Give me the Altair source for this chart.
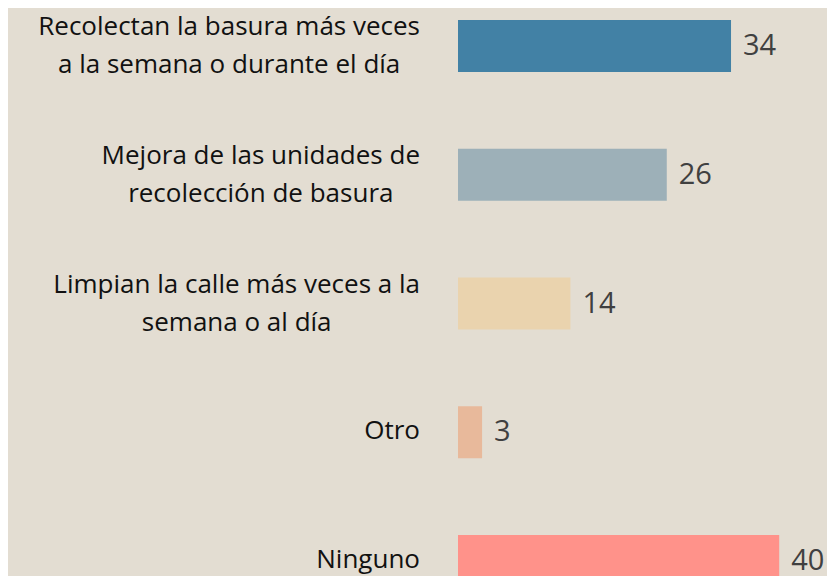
import subprocess
import altair as alt
import pandas as pd

# ---- data ----
labels = [
    "Recolectan la basura más veces|a la semana o durante el día",
    "Mejora de las unidades de|recolección de basura",
    "Limpian la calle más veces a la|semana o al día",
    "Otro",
    "Ninguno",
]
values = [34, 26, 14, 3, 40]
colors = ["#4281A5", "#9DB0B8", "#EAD3AE", "#E8B99B", "#FF928A"]

# ---- style ----
LABEL_FONT = "Open Sans"
LABEL_SIZE = 26
NUM_FONT = "Open Sans"
NUM_SIZE = 29
BG = "#E3DDD2"
W, H = 819, 568
LABEL_RIGHT = 412


def _measure(s, family, size):
    try:
        from PIL import ImageFont
        path = subprocess.run(["fc-match", "-f", "%{file}", family],
                              capture_output=True, text=True).stdout.strip()
        f = ImageFont.truetype(path, size)
        return f.getlength(s)
    except Exception:
        w = 0.0
        for ch in s:
            if ch in "iljíI.,|'":
                w += 0.25
            elif ch in "frt":
                w += 0.36
            elif ch == " ":
                w += 0.26
            elif ch in "mw":
                w += 0.85
            elif ch.isupper():
                w += 0.68
            else:
                w += 0.56
        return w * size


keys = [f"k{i}" for i in range(len(labels))]
widths = [max(_measure(p, LABEL_FONT, LABEL_SIZE) for p in l.split("|")) for l in labels]
df = pd.DataFrame({
    "key": keys,
    "label": labels,
    "value": values,
    "color": colors,
    "cx": [LABEL_RIGHT - w / 2 for w in widths],
})

y_enc = alt.Y("key:N", sort=keys, axis=None,
              scale=alt.Scale(range=[0, 591], paddingInner=0.596, paddingOuter=0.0932))
x_scale = alt.Scale(domain=[0, 40], range=[450, 771.2])

base = alt.Chart(df)

bars = base.mark_bar(clip=True).encode(
    y=y_enc,
    x=alt.X("value:Q", scale=x_scale, axis=None),
    color=alt.Color("color:N", scale=None),
)

nums = base.mark_text(align="left", baseline="middle", dx=12,
                      font=NUM_FONT, fontSize=NUM_SIZE, color="#404040").encode(
    y=y_enc,
    x=alt.X("value:Q", scale=x_scale, axis=None),
    text=alt.Text("value:Q"),
)

lab_base = base.transform_calculate(
    lines="split(datum.label, '|')", n="length(split(datum.label, '|'))")

lab_text = dict(align="center", baseline="alphabetic", lineHeight=38,
                font=LABEL_FONT, fontSize=LABEL_SIZE, color="#111111")

labs2 = lab_base.transform_filter("datum.n > 1").mark_text(dy=-11, **lab_text).encode(
    y=y_enc,
    x=alt.X("cx:Q", scale=None, axis=None),
    text=alt.Text("lines:N"),
)
labs1 = lab_base.transform_filter("datum.n == 1").mark_text(dy=7, **lab_text).encode(
    y=y_enc,
    x=alt.X("cx:Q", scale=None, axis=None),
    text=alt.Text("lines:N"),
)

chart = alt.layer(bars, nums, labs2, labs1).resolve_scale(x="independent").properties(
    width=W, height=H,
    background=BG,
    padding=0,
    autosize=alt.AutoSizeParams(type="none"),
).configure_view(stroke=None)

chart.save("out.html", embed_options={"renderer": "svg", "actions": False})
